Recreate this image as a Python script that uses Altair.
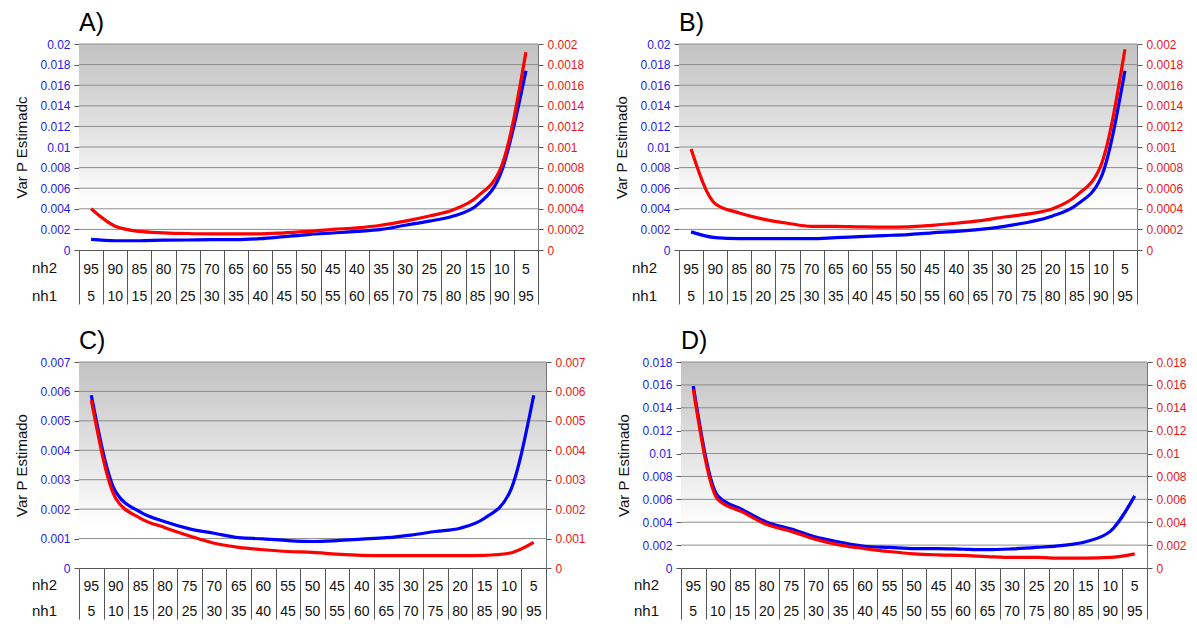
import altair as alt
import pandas as pd

FONT = "Liberation Sans"

nh2 = [95, 90, 85, 80, 75, 70, 65, 60, 55, 50, 45, 40, 35, 30, 25, 20, 15, 10, 5]
nh1 = [5, 10, 15, 20, 25, 30, 35, 40, 45, 50, 55, 60, 65, 70, 75, 80, 85, 90, 95]

a_blue = [0.00103, 0.0009, 0.0009, 0.00095, 0.00097, 0.001, 0.001, 0.0011, 0.0013, 0.0015,
          0.00165, 0.0018, 0.002, 0.0024, 0.0028, 0.0033, 0.0044, 0.0077, 0.0174]
a_red = [0.0004, 0.00023, 0.00018, 0.000167, 0.00016, 0.000157, 0.000157, 0.000157, 0.000167, 0.00018,
         0.0002, 0.000215, 0.00024, 0.00028, 0.00033, 0.00039, 0.00052, 0.00082, 0.00192]

b_blue = [0.00176, 0.0012, 0.0011, 0.0011, 0.0011, 0.0011, 0.0012, 0.0013, 0.0014, 0.0015,
          0.00167, 0.0018, 0.002, 0.0023, 0.0027, 0.0033, 0.0044, 0.007, 0.0174]
b_red = [0.00098, 0.00045, 0.00036, 0.0003, 0.00026, 0.00023, 0.00023, 0.000225, 0.000222, 0.000225,
         0.00024, 0.00026, 0.000285, 0.00032, 0.00035, 0.0004, 0.00053, 0.00082, 0.00195]

c_blue = [0.00587, 0.00258, 0.0019, 0.00157, 0.00133, 0.00118, 0.00103, 0.00099, 0.00093, 0.0009,
          0.00093, 0.00098, 0.00103, 0.00112, 0.00124, 0.00135, 0.00169, 0.00253, 0.00587]
c_red = [0.0057, 0.00236, 0.00169, 0.00137, 0.00109, 0.00084, 0.0007, 0.00062, 0.00056, 0.00053,
         0.00047, 0.00043, 0.00042, 0.00042, 0.00042, 0.00042, 0.00043, 0.0005, 0.00087]

d_blue = [0.0159, 0.0063, 0.0051, 0.004, 0.0034, 0.0027, 0.00225, 0.0019, 0.0018, 0.0017,
          0.0017, 0.00164, 0.0016, 0.00167, 0.0018, 0.00196, 0.0023, 0.0032, 0.0063]
d_red = [0.0156, 0.006, 0.0049, 0.0038, 0.0032, 0.0025, 0.002, 0.0017, 0.00144, 0.00124,
         0.00115, 0.0011, 0.001, 0.00092, 0.00092, 0.00086, 0.00086, 0.00092, 0.00124]

BLUE_LINE = "#0000ff"
RED_LINE = "#ff0000"
BLUE_LAB = "#1c1ce6"
RED_LAB = "#e81818"
AX = "#555555"


def panel(letter, ytitle, blue, red, ymax, step, w, h, tick_len, row1_y, row2_y):
    df = pd.DataFrame({"i": list(range(len(nh2))), "nh2": nh2, "nh1": nh1,
                       "blue": blue, "red": red})
    n = int(round(ymax / step))
    tick_vals = [round(k * step, 6) for k in range(n + 1)]
    xenc = alt.X("i:Q",
                 scale=alt.Scale(domain=[-0.5, len(nh2) - 0.5], nice=False, zero=False),
                 axis=alt.Axis(values=[k - 0.5 for k in range(len(nh2) + 1)], labels=False,
                               title=None, grid=False, tickSize=tick_len, tickColor="#555555",
                               domainColor="#555555", tickWidth=1, domainWidth=1))
    one = pd.DataFrame({"z": [0]})
    bg = alt.Chart(one).mark_rect(
        fill=alt.Gradient(gradient="linear",
                          stops=[alt.GradientStop(color="#c2c2c2", offset=0),
                                 alt.GradientStop(color="#ffffff", offset=0.8),
                                 alt.GradientStop(color="#ffffff", offset=1)],
                          x1=0, x2=0, y1=0, y2=1)
    ).encode(x=alt.value(0), x2=alt.value("width"), y=alt.value(0), y2=alt.value("height"))
    grid = alt.Chart(pd.DataFrame({"g": tick_vals[1:]})).mark_rule(color="#8c8c8c", strokeWidth=1).encode(
        y=alt.Y("g:Q", scale=alt.Scale(domain=[0, ymax], nice=False), axis=None))
    bl = alt.Chart(df).mark_line(color=BLUE_LINE, strokeWidth=3.2, interpolate="monotone").encode(
        x=xenc,
        y=alt.Y("blue:Q", scale=alt.Scale(domain=[0, ymax], nice=False),
                axis=alt.Axis(orient="left", title=ytitle, values=tick_vals, format="~g",
                              labelColor=BLUE_LAB, grid=False, tickColor=AX, domainColor="#777777",
                              tickSize=5, labelPadding=4, titlePadding=10)))
    rmax = ymax / 10 if letter in "AB" else ymax
    rvals = [round(v / 10, 7) for v in tick_vals] if letter in "AB" else tick_vals
    rd = alt.Chart(df).mark_line(color=RED_LINE, strokeWidth=3.2, interpolate="monotone").encode(
        x=xenc,
        y=alt.Y("red:Q", scale=alt.Scale(domain=[0, rmax], nice=False),
                axis=alt.Axis(orient="right", title=None, values=rvals,
                              format="~g", labelColor=RED_LAB, grid=False, tickColor=AX,
                              domainColor="#777777", tickSize=5, labelPadding=4)))
    t2 = alt.Chart(df).mark_text(fontSize=14, font=FONT, baseline="middle", color="#111").encode(
        x=xenc, text="nh2:N", y=alt.value(h + row1_y))
    t1 = alt.Chart(df).mark_text(fontSize=14, font=FONT, baseline="middle", color="#111").encode(
        x=xenc, text="nh1:N", y=alt.value(h + row2_y))
    l2 = alt.Chart(one).mark_text(text="nh2", fontSize=15, font=FONT, align="right",
                                  baseline="middle", color="#111").encode(
        x=alt.value(-22), y=alt.value(h + row1_y - 2))
    l1 = alt.Chart(one).mark_text(text="nh1", fontSize=15, font=FONT, align="right",
                                  baseline="middle", color="#111").encode(
        x=alt.value(-22), y=alt.value(h + row2_y - 1))
    return alt.layer(bg, grid, bl, rd, t2, t1, l2, l1).resolve_scale(y="independent").properties(
        width=w, height=h,
        title=alt.TitleParams(letter + ")", anchor="start", frame="group", fontSize=25,
                              fontWeight="normal", font=FONT, color="#000", offset=2))


H = 206
A = panel("A", "Var P Estimadc", a_blue, a_red, 0.02, 0.002, 459, H, 54, 20, 47)
B = panel("B", "Var P Estimado", b_blue, b_red, 0.02, 0.002, 458, H, 54, 20, 47)
C = panel("C", "Var P Estimado", c_blue, c_red, 0.007, 0.001, 467, H, 51, 19, 44)
D = panel("D", "Var P Estimado", d_blue, d_red, 0.018, 0.002, 466, H, 51, 19, 44)

row1 = alt.hconcat(A, B, spacing=30)
row2 = alt.hconcat(C, D, spacing=30)
chart = alt.vconcat(row1, row2, spacing=24).properties(
    padding={"left": 6, "top": 3, "right": 0, "bottom": 0}
).configure_view(stroke=None).configure_axis(
    labelFont=FONT, titleFont=FONT, labelFontSize=12, titleFontSize=15,
    titleFontWeight="normal", titleColor="#111"
)

chart.save("out.html", embed_options={"renderer": "svg", "actions": False})
